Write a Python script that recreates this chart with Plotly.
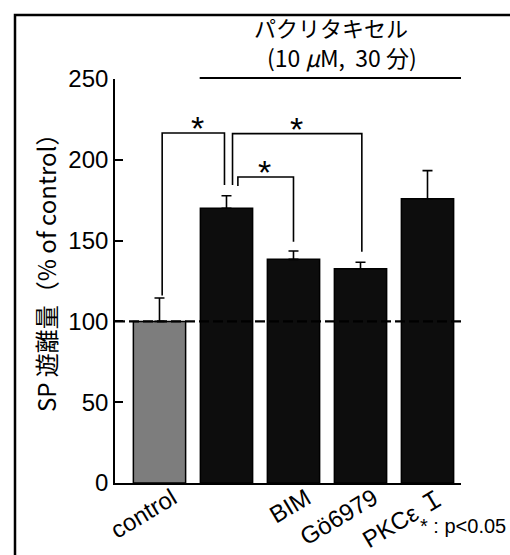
import plotly.graph_objects as go

categories = ["control", "paclitaxel", "BIM", "Gö6979", "PKCε I"]
tick_labels = ["control", "", "BIM", "Gö6979", "PKCε Ｉ"]
values = [100, 170, 138.4, 132.6, 175.9]
errors = [14.5, 7.8, 5.2, 4.0, 17.4]
bar_colors = ["#7d7d7d", "#0d0d0d", "#0d0d0d", "#0d0d0d", "#0d0d0d"]
y_ticks = [0, 50, 100, 150, 200, 250]

# significance brackets: (left cat, left foot, right cat, right foot, top level)
brackets = [
    (0.04, 116.0, 0.97, 184.4, 216.6),
    (1.09, 184.4, 3.02, 143.1, 216.2),
    (1.17, 183.8, 2.00, 149.3, 189.4),
]
stars_x = [0.57, 2.05, 1.56]
stars_y = [219.5, 219.0, 192.5]

FONT = "Liberation Sans, Arial, Noto Sans CJK JP, sans-serif"
JP = "Noto Sans CJK JP, Liberation Sans, sans-serif"

L, R, T, B = 115, 49, 79, 72
W, H = 510, 555
PW, PH = W - L - R, H - T - B


def px_x(px):
    return (px - L) / PW


def px_y(py):
    return (H - B - py) / PH


fig = go.Figure()
fig.add_trace(go.Bar(
    x=list(range(len(categories))), y=values,
    marker=dict(color=bar_colors, line=dict(color="black", width=1.5)),
    error_y=dict(type="data", array=errors, arrayminus=[0]*len(errors),
                 symmetric=False, color="black", thickness=1.6, width=5),
    width=0.78, showlegend=False, hoverinfo="skip",
))

for xl, yl, xr, yr, yt in brackets:
    fig.add_trace(go.Scatter(
        x=[xl, xl, xr, xr], y=[yl, yt, yt, yr], mode="lines",
        line=dict(color="black", width=1.6), showlegend=False, hoverinfo="skip",
    ))

for sx, sy in zip(stars_x, stars_y):
    fig.add_annotation(x=sx, y=sy, xref="x", yref="y", text="*", showarrow=False,
                       font=dict(family=FONT, size=34, color="black"),
                       xanchor="center", yanchor="middle")

# dashed control line at 100
fig.add_shape(type="line", xref="paper", yref="y", x0=0, x1=1.003, y0=100, y1=100,
              line=dict(color="black", width=2.2, dash="10px,4px"), layer="above")

# paclitaxel group line
fig.add_shape(type="line", xref="x", yref="paper", x0=0.6, x1=4.53, y0=px_y(78), y1=px_y(78),
              line=dict(color="black", width=2.2))

# frame
fig.add_shape(type="rect", xref="paper", yref="paper", x0=px_x(15), x1=px_x(530),
              y0=px_y(575), y1=px_y(15), line=dict(color="black", width=2.5))

for xpx, ypx, text, size in [(331, 27, "パクリタキセル", 22),
                             (342, 57, "(10 <i>μ</i>M,  30 分)", 23)]:
    fig.add_annotation(x=px_x(xpx), y=px_y(ypx), xref="paper", yref="paper", text=text,
                       showarrow=False, xanchor="center", yanchor="middle",
                       font=dict(family=JP, size=size, color="black"))

# y axis title placed to match the reference
fig.add_annotation(x=px_x(45), y=px_y(267), xref="paper", yref="paper",
                   text="SP 遊離量（% of control）", textangle=-90, showarrow=False,
                   xanchor="center", yanchor="middle",
                   font=dict(family=JP, size=24, color="black"))

fig.add_annotation(x=px_x(508), y=px_y(526), xref="paper", yref="paper",
                   text="* : p<0.05", showarrow=False, xanchor="right", yanchor="middle",
                   font=dict(family=FONT, size=20, color="black"))

fig.update_layout(
    width=W, height=H,
    margin=dict(l=L, r=R, t=T, b=B, autoexpand=False),
    paper_bgcolor="white", plot_bgcolor="white",
    bargap=0.22,
    font=dict(family=FONT, color="black"),
    xaxis=dict(
        range=[-0.664, 4.5], tickvals=list(range(len(categories))), ticktext=tick_labels,
        tickangle=-31, showline=True, linecolor="black", linewidth=2, ticks="",
        showgrid=False, zeroline=False, tickfont=dict(size=24, family=FONT),
        ticklabelshift=13, ticklabelstandoff=-10, automargin=False,
    ),
    yaxis=dict(
        range=[0, 250], tickvals=y_ticks, showline=True, linecolor="black", linewidth=1.6,
        ticks="inside", ticklen=8, tickwidth=1.6, tickcolor="black",
        showgrid=False, zeroline=False, tickfont=dict(size=24, family=FONT),
        automargin=False,
    ),
)

fig.write_html("out.html", config={"displayModeBar": False},
               post_script="document.body.style.margin='0';document.body.style.overflow='hidden';")
